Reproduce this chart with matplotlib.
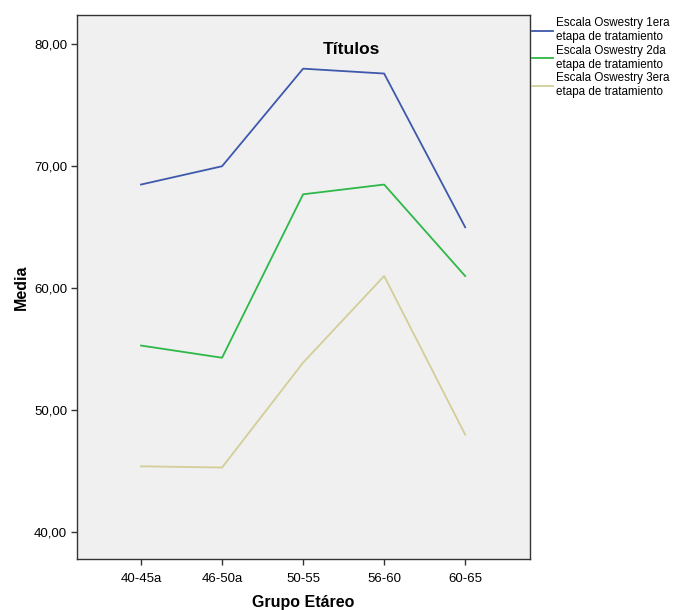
import matplotlib
matplotlib.use("Agg")
import matplotlib.pyplot as plt

categories = ["40-45a", "46-50a", "50-55", "56-60", "60-65"]
etapa1 = [68.5, 70.0, 78.0, 77.6, 65.0]
etapa2 = [55.3, 54.3, 67.7, 68.5, 61.0]
etapa3 = [45.4, 45.3, 53.9, 61.0, 48.0]
series_labels = ["Escala Oswestry 1era\netapa de tratamiento",
                 "Escala Oswestry 2da\netapa de tratamiento",
                 "Escala Oswestry 3era\netapa de tratamiento"]
colors = ["#3E58AC", "#2EB848", "#D3CE97"]
yticks = [40, 50, 60, 70, 80]

plt.rcParams['font.family'] = ['Liberation Sans', 'DejaVu Sans']

fig = plt.figure(figsize=(6.81, 6.10), dpi=100)
fig.patch.set_facecolor("white")
ax = fig.add_axes([77/681, 1-559/610, (530-77)/681, (559-15)/610])
ax.set_facecolor("#F0F0F0")

x = list(range(len(categories)))
for vals, lab, c in zip([etapa1, etapa2, etapa3], series_labels, colors):
    ax.plot(x, vals, color=c, lw=1.3, label=lab)

ax.set_xlim(-0.79, 4.8)
ax.set_ylim(37.8, 82.4)
ax.set_xticks(x)
ax.set_xticklabels(categories, fontsize=9.5)
ax.set_yticks(yticks)
ax.set_yticklabels([f"{v:.2f}".replace(".", ",") for v in yticks], fontsize=9.5)
ax.tick_params(axis="x", direction="out", length=4, width=1, color="#333333", pad=6)
ax.tick_params(axis="y", direction="out", length=4, width=1, color="#333333", pad=3)
for s in ax.spines.values():
    s.set_color("#333333")
    s.set_linewidth(1)

ax.set_xlabel("Grupo Etáreo", fontsize=11.5, fontweight="bold", labelpad=7)
ax.set_ylabel("Media", fontsize=11.5, fontweight="bold", labelpad=4)
ax.text(0.605, 0.936, "Títulos", transform=ax.transAxes, ha="center", va="center",
        fontsize=12.5, fontweight="bold")

fig.legend(loc="upper left", bbox_to_anchor=(530/681, 1-15/610), frameon=False,
           fontsize=8.4, handlelength=1.8, handletextpad=0.2, labelspacing=0.15,
           borderaxespad=0, borderpad=0.2)

fig.savefig("out.png", dpi=100)
